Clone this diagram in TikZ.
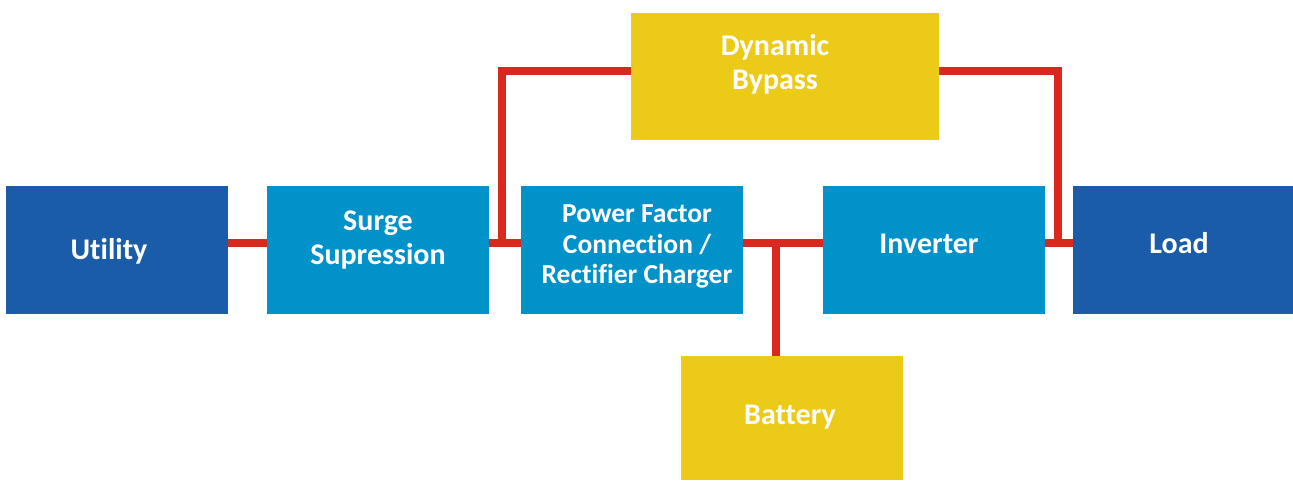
\documentclass[tikz,border=0pt]{standalone}
\usepackage{fontspec}
\setmainfont[Ligatures={NoCommon}]{Carlito}
\usetikzlibrary{calc}
\definecolor{wire}{RGB}{218,40,30}
\definecolor{gold}{RGB}{236,203,24}
\definecolor{lightblue}{RGB}{0,146,200}
\definecolor{darkblue}{RGB}{27,92,168}
\tikzset{
  box/.style={draw=none, inner sep=0pt, minimum width=222pt, minimum height=128pt},
  lbl/.style={text=white, font=\bfseries\fontsize{30}{33.5}\selectfont, align=center, inner sep=0pt, yshift=-2.5pt},
  link/.style={draw=wire, line width=7.5pt}
}
\begin{document}
\begin{tikzpicture}[x=1pt,y=-1pt]
\useasboundingbox (0,0) rectangle (1293,481);
% boxes
\node[box, fill=darkblue] (utility) at (117,250) {};
\node[box, fill=lightblue] (surge) at (378,250) {};
\node[box, fill=lightblue] (pfc) at (632,250) {};
\node[box, fill=lightblue] (inverter) at (934,250) {};
\node[box, fill=darkblue, minimum width=220pt] (load) at (1183,250) {};
\node[box, fill=gold, minimum width=308pt, minimum height=127pt] (bypass) at (785,76.5) {};
\node[box, fill=gold, minimum height=124pt] (battery) at (792,418) {};
% labels
\node[lbl] (utilityT) at (109,249) {Utility};
\node[lbl] (surgeT) at (378,237.5) {Surge\\Supression};
\node[lbl, font=\bfseries\fontsize{27.5}{30.5}\selectfont] (pfcT) at (637,244) {Power Factor\\Connection /\\Rectifier Charger};
\node[lbl] (inverterT) at (929,241) {Inverter};
\node[lbl] (loadT) at (1179,241) {Load};
\node[lbl] (bypassT) at (775,62) {Dynamic\\Bypass};
\node[lbl] (batteryT) at (790,415) {Battery};
% junction coordinates
\coordinate (j1) at (502,243);
\coordinate (j1top) at (502,71);
\coordinate (j2) at (776,243);
\coordinate (j3) at (1058,243);
\coordinate (j3top) at (1058,71);
% connectors
\draw[link] ([yshift=7pt]utility.east) -- ([yshift=7pt]surge.west);
\draw[link] ([yshift=7pt]surge.east) -- ([yshift=7pt]pfc.west);
\draw[link] ([yshift=7pt]pfc.east) -- ([yshift=7pt]inverter.east -| inverter.west);
\draw[link] ([yshift=7pt]inverter.east) -- ([yshift=7pt]load.west);
\draw[link] (j2) -- (j2 |- battery.north);
\draw[link] (j1) -- (j1top) -- (j1top -| bypass.west);
\draw[link] (j3top -| bypass.east) -- (j3top) -- (j3);
\end{tikzpicture}
\end{document}
